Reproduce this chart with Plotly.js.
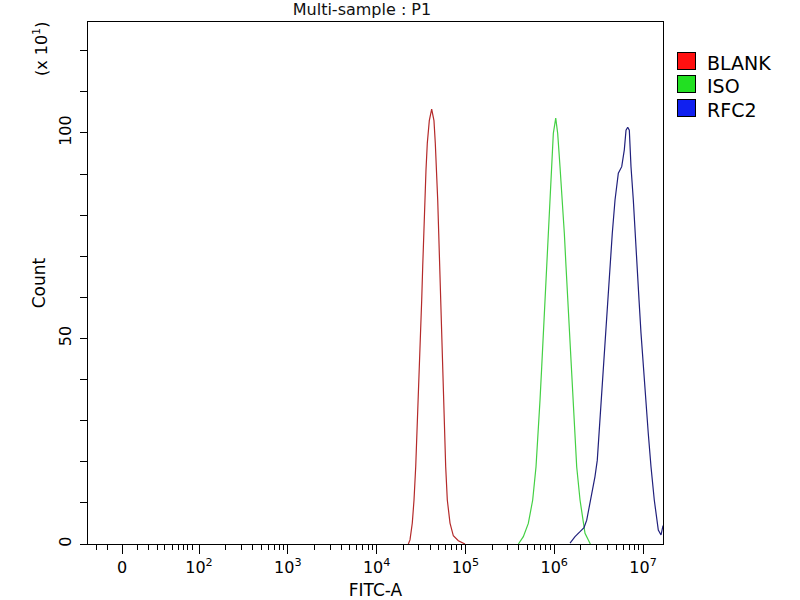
<!DOCTYPE html>
<html>
<head>
<meta charset="utf-8">
<script src="https://cdn.plot.ly/plotly-3.0.1.min.js"></script>
<style>
  html, body { margin: 0; padding: 0; background: #fff; }
  #graph { width: 800px; height: 600px; }
</style>
</head>
<body>
<div id="graph"></div>
<script>
// FITC-A channel values and counts (x10)
const blankX = [22750, 23770, 25230, 26370, 27560, 28500, 29500, 30270, 31400, 32200, 33050, 33900,
    35080, 35980, 37220, 39200, 41690, 44250, 45800, 47500, 48760, 50050, 51350, 52150, 53520,
    54950, 56400, 57870, 59960, 62540, 67080, 73130, 83250, 98960];
const blankY = [0, 1, 5.1, 10.7, 18.8, 26.9, 35, 43.1, 51.3, 59.4, 67.5, 75.6,
    83.7, 91, 97.5, 103, 105.8, 103, 97.5, 91, 83.7, 75.6, 67.5, 59.4, 51.3,
    43.1, 35, 26.9, 18.8, 10.7, 5.1, 2, 0.8, 0];

const isoX = [394600, 449000, 510800, 572300, 623800, 662000, 691800, 723000, 753900, 787600,
    823500, 859000, 897500, 937600, 977300, 1040000, 1094000, 1162000, 1233000, 1300000,
    1358000, 1419000, 1479000, 1545000, 1614000, 1701000, 1791000, 1953000, 2094000, 2222000, 2550000];
const isoY = [0, 1.8, 5, 10.7, 18.8, 26.9, 35, 43.1, 51.3, 59.4,
    67.5, 75.6, 83.7, 91.8, 99.9, 103.6, 99.9, 91.8, 83.7, 75.6,
    67.5, 59.4, 51.3, 43.1, 35, 26.9, 18.8, 10.7, 5.8, 2.6, 0];

const rfc2X = [1507000, 1715000, 1953000, 2166000, 2323000, 2485000, 2685000, 2878000, 3055000,
    3197000, 3367000, 3573000, 3802000, 4001000, 4246000, 4508000, 4838000, 5272000, 5757000,
    6156000, 6436000, 6725000, 7010000, 7322000, 7776000, 8128000, 8630000, 9016000, 9489000,
    10060000, 10720000, 11460000, 12300000, 13390000, 14860000, 15950000, 16800000];
const rfc2Y = [0.2, 1.8, 3, 4, 5.8, 9.1, 12.3, 16.4, 20.4,
    26.9, 35, 43.1, 51.3, 59.4, 67.5, 75.6, 83.7, 90.2, 91.8,
    95.9, 100.7, 101.4, 100.7, 91.8, 83.7, 75.6, 67.5, 59.4, 51.3,
    43.1, 35, 26.9, 18.8, 10.7, 3.4, 2.2, 4.5];

const seriesNames = ['BLANK', 'ISO', 'RFC2'];
const lineColors = ['#b42a2a', '#44d044', '#20207c'];
const swatchColors = ['#ff1010', '#22e022', '#1020f0'];

// x axis labels (biexponential display: "0" sits below the 10^2 decade)
const majorTickExp = [1.133, 2, 3, 4, 5, 6, 7];
const majorTickText = ['0', '10<sup>2</sup>', '10<sup>3</sup>', '10<sup>4</sup>',
    '10<sup>5</sup>', '10<sup>6</sup>', '10<sup>7</sup>'];
const lowMinorExp = [0.851, 0.975, 1.302, 1.426, 1.527, 1.617, 1.696, 1.764, 1.820, 1.876, 1.932];

let minorVals = lowMinorExp.map(e => Math.pow(10, e));
for (let k = 2; k <= 6; k++) {
    for (let m = 2; m <= 9; m++) minorVals.push(m * Math.pow(10, k));
}

const font = 'DejaVu Sans, Arial, sans-serif';

const curves = [[blankX, blankY], [isoX, isoY], [rfc2X, rfc2Y]];
let data = curves.map((c, i) => ({
    type: 'scatter',
    mode: 'lines',
    name: seriesNames[i],
    x: c[0],
    y: c[1],
    line: { color: lineColors[i], width: 1.2 },
    showlegend: false,
    hoverinfo: 'skip'
}));

// legend drawn as boxed swatches + labels to the right of the frame
let annotations = [];
seriesNames.forEach((n, i) => {
    let y = 0.926 - i * 0.045;
    annotations.push({
        text: ' ', xref: 'paper', yref: 'paper', x: 1.04, y: y,
        xanchor: 'center', yanchor: 'middle', showarrow: false,
        width: 17, height: 16, bgcolor: swatchColors[i], bordercolor: '#000', borderwidth: 1, borderpad: 0
    });
    annotations.push({
        text: n, xref: 'paper', yref: 'paper', x: 1.073, y: y - 0.004,
        xanchor: 'left', yanchor: 'middle', showarrow: false,
        font: { family: font, size: 19, color: '#000' }
    });
});

annotations.push({
    text: '(x 10<sup>1</sup>)',
    xref: 'paper', yref: 'paper',
    x: -0.0835, y: 0.95,
    xanchor: 'center', yanchor: 'middle',
    showarrow: false,
    textangle: -90,
    font: { family: font, size: 16 }
});

const layout = {
    width: 800,
    height: 600,
    margin: { l: 88, r: 137, t: 22, b: 56 },
    paper_bgcolor: '#fff',
    plot_bgcolor: '#fff',
    font: { family: font, color: '#000', size: 16 },
    showlegend: false,
    title: {
        text: 'Multi-sample : P1',
        font: { family: font, size: 16, color: '#111' },
        x: 0.4765, xref: 'paper', xanchor: 'center',
        y: 0.985, yref: 'container', yanchor: 'middle'
    },
    xaxis: {
        type: 'log',
        range: [0.75, 7.225],
        tickmode: 'array',
        tickvals: majorTickExp.map(e => Math.pow(10, e)),
        ticktext: majorTickText,
        ticks: 'outside',
        ticklen: 9,
        tickcolor: '#000',
        tickfont: { family: font, size: 16 },
        minor: { tickmode: 'array', tickvals: minorVals, ticks: 'outside', ticklen: 5, tickcolor: '#000' },
        showline: true,
        linecolor: '#000',
        linewidth: 1,
        mirror: true,
        showgrid: false,
        zeroline: false,
        title: { text: 'FITC-A', font: { family: font, size: 17 }, standoff: 7 }
    },
    yaxis: {
        range: [0, 127],
        tickmode: 'array',
        tickvals: [0, 50, 100],
        tickangle: -90,
        ticks: 'outside',
        ticklen: 7,
        tickcolor: '#000',
        tickfont: { family: font, size: 16 },
        ticklabelstandoff: 3,
        minor: { dtick: 10, tick0: 0, ticks: 'outside', ticklen: 7, tickcolor: '#000' },
        showline: true,
        linecolor: '#000',
        linewidth: 1,
        mirror: true,
        showgrid: false,
        zeroline: false,
        title: { text: 'Count', font: { family: font, size: 17 }, standoff: 5 }
    },
    annotations: annotations
};

Plotly.newPlot('graph', data, layout, { staticPlot: true });
</script>
</body>
</html>
